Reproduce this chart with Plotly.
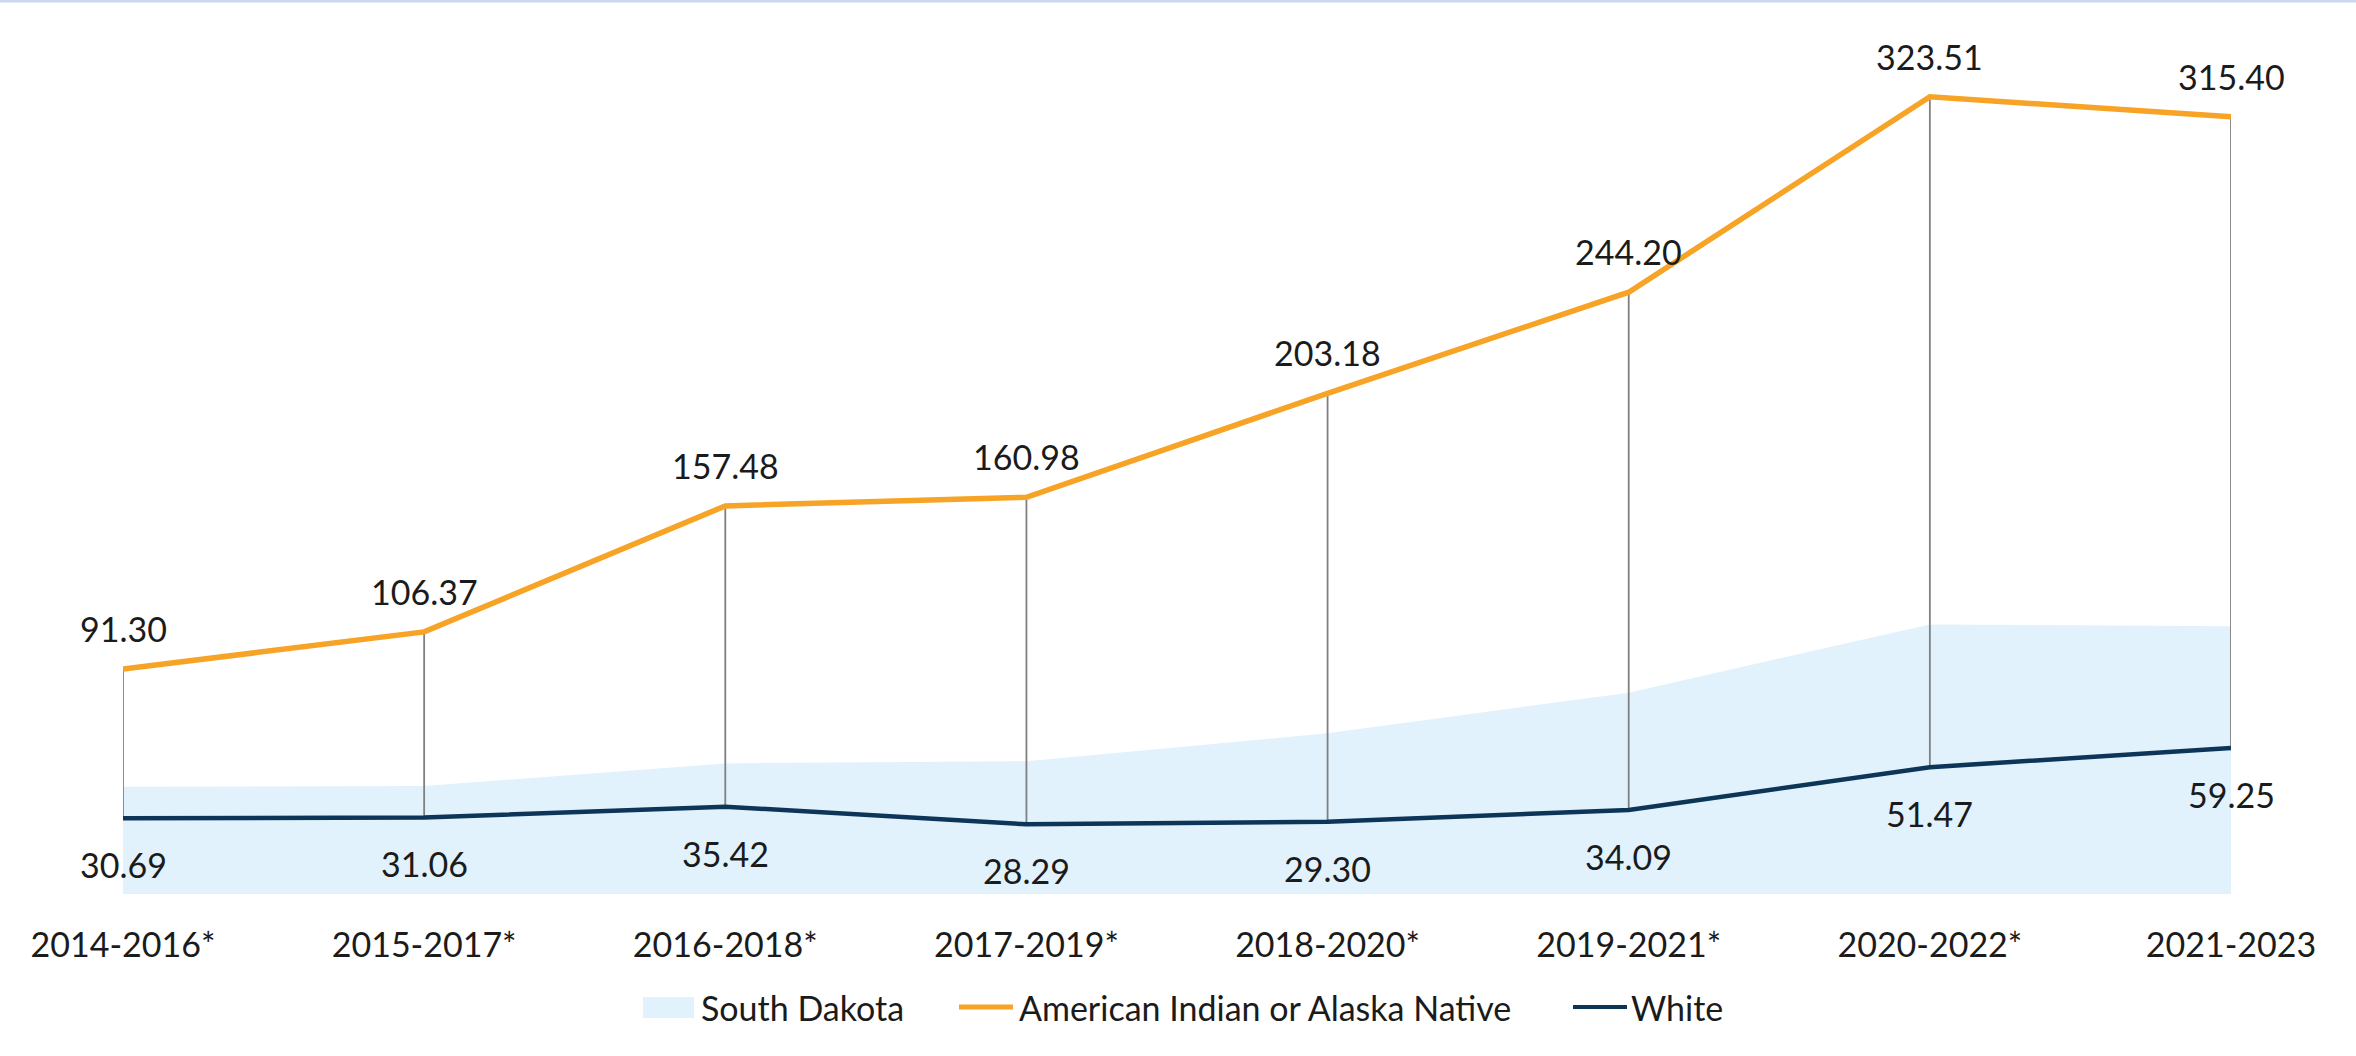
import plotly.graph_objects as go

periods = ["2014-2016*", "2015-2017*", "2016-2018*", "2017-2019*",
           "2018-2020*", "2019-2021*", "2020-2022*", "2021-2023"]
south_dakota = [43.5, 43.8, 53.0, 53.9, 65.2, 81.7, 109.4, 108.7]
aian = [91.30, 106.37, 157.48, 160.98, 203.18, 244.20, 323.51, 315.40]
white = [30.69, 31.06, 35.42, 28.29, 29.30, 34.09, 51.47, 59.25]

series_names = ["South Dakota", "American Indian or Alaska Native", "White"]
series_colors = ["#E1F2FD", "#F7A325", "#0D3558"]

FONT = "Lato, Carlito, Calibri, sans-serif"
FS = 34
TXT = "#1b1b1b"

W, H = 2356, 1056
ML, MR, MT, MB = 123, 125, 30, 162
PW, PH = W - ML - MR, H - MT - MB


def px_x(px):
    return (px - ML) / PW


def px_y(py):
    return (H - MB - py) / PH


fig = go.Figure()

fig.add_trace(go.Scatter(
    x=periods, y=south_dakota, name=series_names[0], mode="lines",
    line=dict(width=0, color=series_colors[0]), fill="tozeroy",
    fillcolor=series_colors[0], hoverinfo="skip", showlegend=False))

# drop lines between the two series
dx, dy = [], []
for p, a, w in zip(periods, aian, white):
    dx += [p, p, None]
    dy += [a, w, None]
fig.add_trace(go.Scatter(x=dx, y=dy, mode="lines", showlegend=False,
                         line=dict(color="#808080", width=1.8), hoverinfo="skip"))

fig.add_trace(go.Scatter(
    x=periods, y=aian, name=series_names[1], mode="lines",
    line=dict(color=series_colors[1], width=5.5), showlegend=False))
fig.add_trace(go.Scatter(
    x=periods, y=white, name=series_names[2], mode="lines",
    line=dict(color=series_colors[2], width=4.5), showlegend=False))

for p, a in zip(periods, aian):
    fig.add_annotation(x=p, y=a, text=f"{a:.2f}", showarrow=False,
                       yanchor="bottom", yshift=18,
                       font=dict(family=FONT, size=FS, color=TXT))
for p, w in zip(periods, white):
    fig.add_annotation(x=p, y=w, text=f"{w:.2f}", showarrow=False,
                       yanchor="top", yshift=-24,
                       font=dict(family=FONT, size=FS, color=TXT))

# legend (drawn as swatches + text below the axis)
leg_y = px_y(1007)
fig.add_shape(type="rect", xref="paper", yref="paper",
              x0=px_x(643), x1=px_x(694), y0=px_y(1018), y1=px_y(997),
              fillcolor=series_colors[0], line=dict(width=0))
fig.add_shape(type="line", xref="paper", yref="paper",
              x0=px_x(959), x1=px_x(1013), y0=leg_y, y1=leg_y,
              line=dict(color=series_colors[1], width=5))
fig.add_shape(type="line", xref="paper", yref="paper",
              x0=px_x(1573), x1=px_x(1627), y0=leg_y, y1=leg_y,
              line=dict(color=series_colors[2], width=4))
for name, lx in zip(series_names, [699, 1017, 1629]):
    fig.add_annotation(xref="paper", yref="paper", x=px_x(lx), y=leg_y,
                       xanchor="left", yanchor="middle", showarrow=False,
                       text=name, font=dict(family=FONT, size=FS, color=TXT))

# thin top border of the frame
fig.add_shape(type="line", xref="paper", yref="paper",
              x0=px_x(0), x1=px_x(W), y0=px_y(1), y1=px_y(1),
              line=dict(color="#C9DAF0", width=3))

fig.update_layout(
    width=W, height=H,
    margin=dict(l=ML, r=MR, t=MT, b=MB),
    paper_bgcolor="white", plot_bgcolor="white",
    font=dict(family=FONT, size=FS, color=TXT),
    showlegend=False,
    xaxis=dict(range=[0, 7], showgrid=False, zeroline=False, showline=False,
               ticks="", ticklabelstandoff=28,
               tickfont=dict(family=FONT, size=FS, color=TXT)),
    yaxis=dict(range=[0, 350.6], showgrid=False, zeroline=False, showline=False,
               showticklabels=False, ticks=""),
)

fig.write_html("out.html",
               config={"displayModeBar": False},
               post_script="document.body.style.margin='0';document.body.style.overflow='hidden';")
